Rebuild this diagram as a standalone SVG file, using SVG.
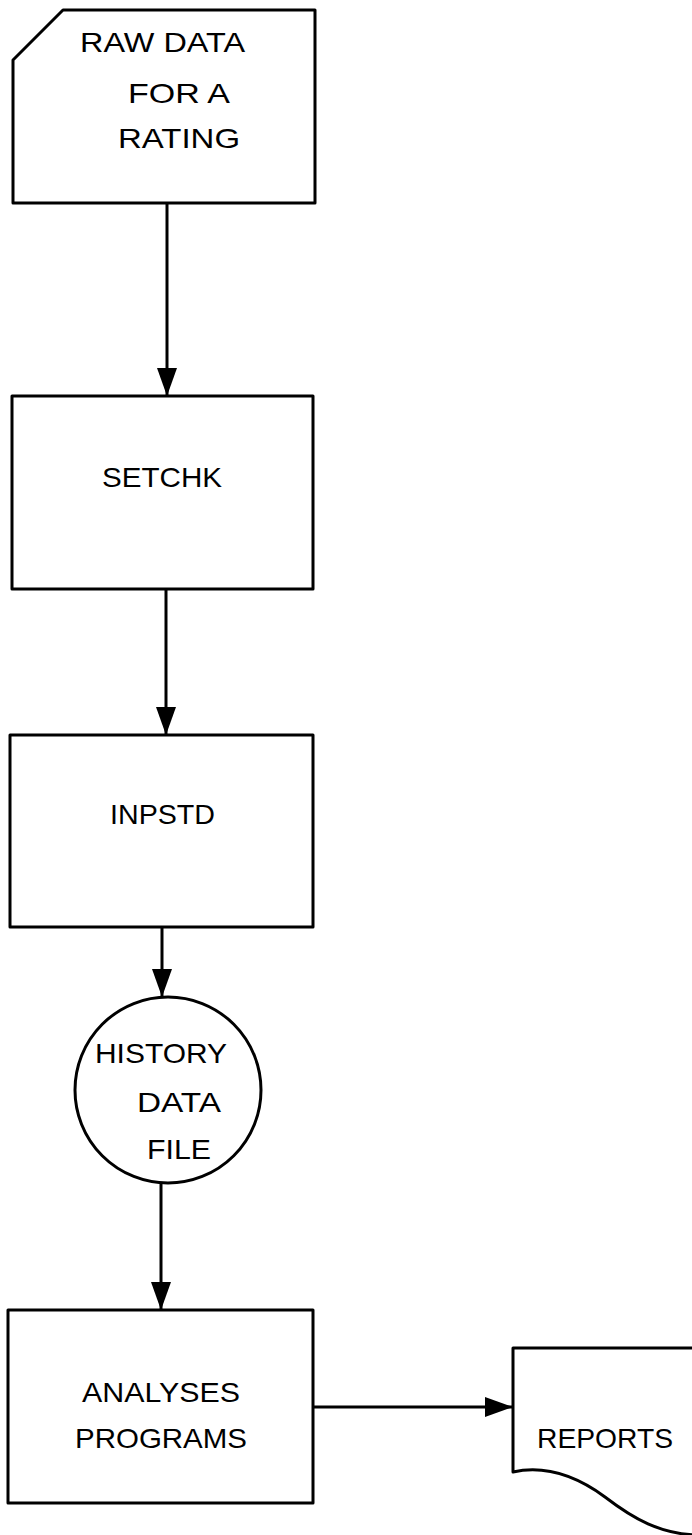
<svg xmlns="http://www.w3.org/2000/svg" width="692" height="1535" viewBox="0 0 692 1535">
<style>
.shape{fill:none;stroke:#000;stroke-width:3;stroke-linejoin:round}
.conn{fill:none;stroke:#000;stroke-width:3}
.lbl{font-family:"Liberation Sans",Arial,sans-serif;font-size:28px;fill:#000}
</style>
<defs>
<marker id="arr" viewBox="0 0 28 20" refX="28" refY="10" markerWidth="28" markerHeight="20" markerUnits="userSpaceOnUse" orient="auto">
<path d="M0,0 L28,10 L0,20 Z" fill="#000"/>
</marker>
</defs>
<rect width="692" height="1535" fill="#fff"/>
<g id="raw-data">
<path class="shape" d="M13,60 L63,10 L315,10 L315,203 L13,203 Z"/>
<text class="lbl" x="80" y="52" textLength="165" lengthAdjust="spacingAndGlyphs">RAW DATA</text>
<text class="lbl" x="128" y="103" textLength="102" lengthAdjust="spacingAndGlyphs">FOR A</text>
<text class="lbl" x="118" y="148" textLength="122" lengthAdjust="spacingAndGlyphs">RATING</text>
</g>
<g id="setchk">
<rect class="shape" x="12" y="396" width="301" height="193"/>
<text class="lbl" x="102" y="487" textLength="120" lengthAdjust="spacingAndGlyphs">SETCHK</text>
</g>
<g id="inpstd">
<rect class="shape" x="10" y="735" width="303" height="192"/>
<text class="lbl" x="110" y="824" textLength="105" lengthAdjust="spacingAndGlyphs">INPSTD</text>
</g>
<g id="history-data-file">
<circle class="shape" cx="168" cy="1090" r="93"/>
<text class="lbl" x="95" y="1063" textLength="132" lengthAdjust="spacingAndGlyphs">HISTORY</text>
<text class="lbl" x="137" y="1112" textLength="84" lengthAdjust="spacingAndGlyphs">DATA</text>
<text class="lbl" x="147" y="1159" textLength="64" lengthAdjust="spacingAndGlyphs">FILE</text>
</g>
<g id="analyses-programs">
<rect class="shape" x="8" y="1310" width="305" height="193"/>
<text class="lbl" x="82" y="1402" textLength="158" lengthAdjust="spacingAndGlyphs">ANALYSES</text>
<text class="lbl" x="75" y="1448" textLength="172" lengthAdjust="spacingAndGlyphs">PROGRAMS</text>
</g>
<g id="reports">
<path class="shape" d="M694,1348 L513,1348 L513,1472 C545,1465 575,1475 605,1497 C635,1520 660,1533 694,1535"/>
<text class="lbl" x="537" y="1448" textLength="136" lengthAdjust="spacingAndGlyphs">REPORTS</text>
</g>
<g id="connectors">
<line class="conn" x1="167" y1="203" x2="167" y2="396" marker-end="url(#arr)"/>
<line class="conn" x1="166" y1="589" x2="166" y2="735" marker-end="url(#arr)"/>
<line class="conn" x1="162" y1="927" x2="162" y2="997" marker-end="url(#arr)"/>
<line class="conn" x1="161" y1="1183" x2="161" y2="1310" marker-end="url(#arr)"/>
<line class="conn" x1="313" y1="1407" x2="513" y2="1407" marker-end="url(#arr)"/>
</g>
</svg>
